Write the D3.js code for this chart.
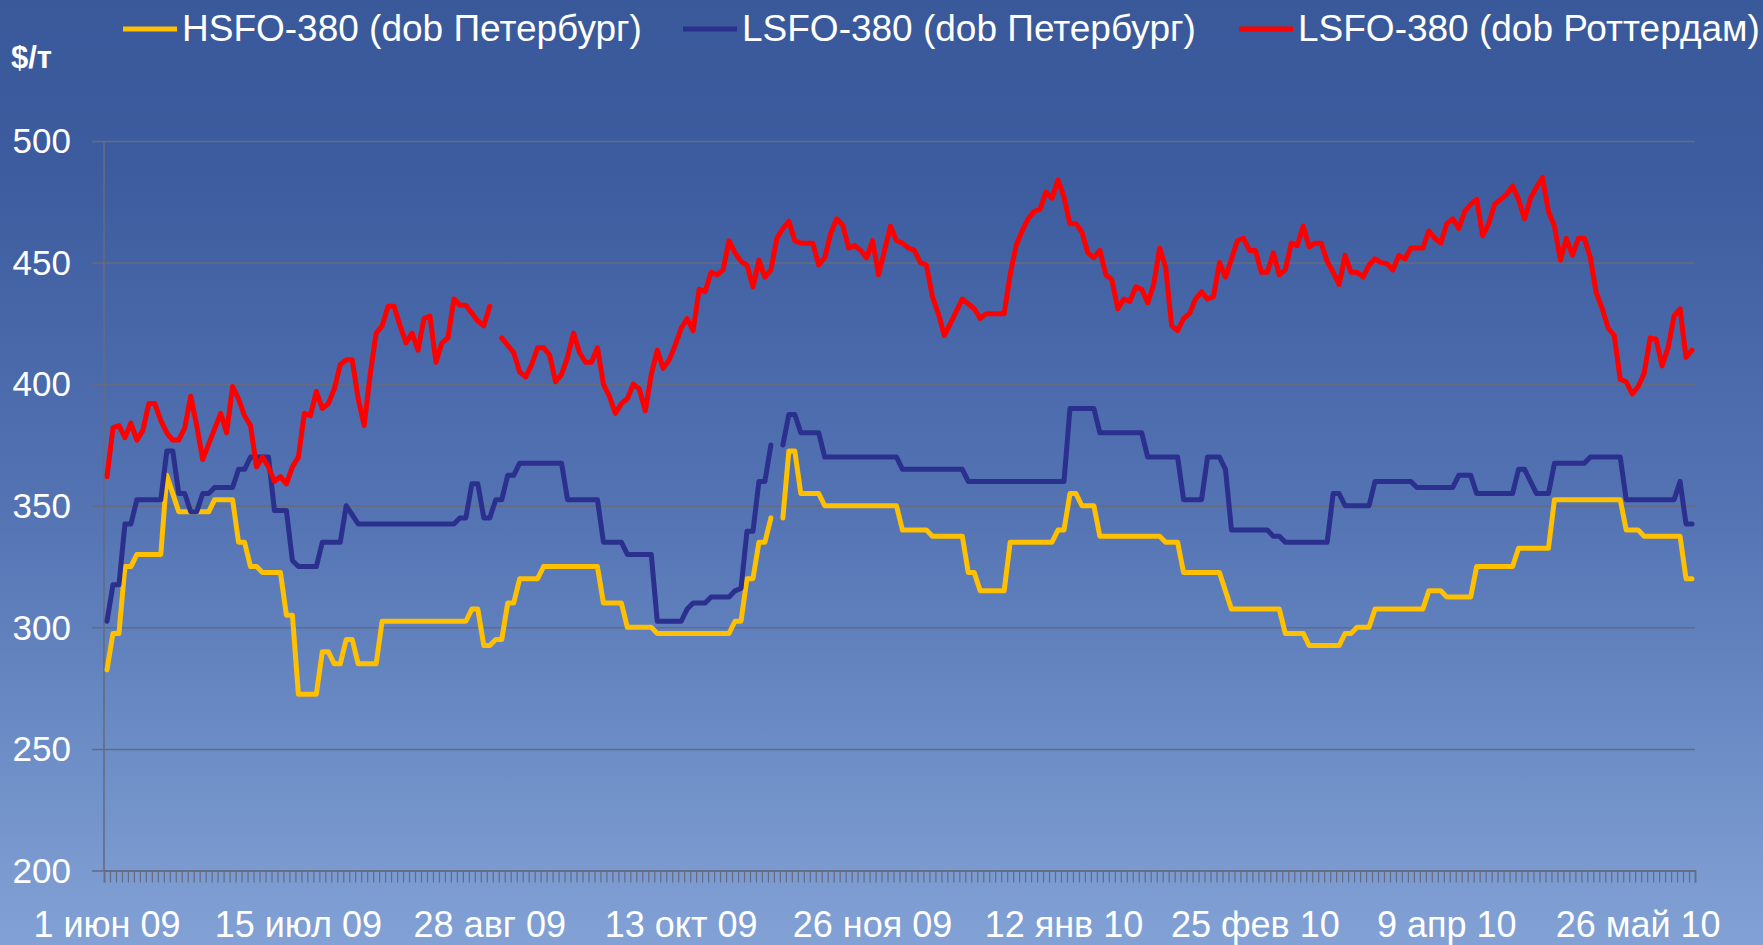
<!DOCTYPE html>
<html>
<head>
<meta charset="utf-8">
<script src="https://cdn.jsdelivr.net/npm/d3@7.9.0/dist/d3.min.js"></script>
<style>
  html, body { margin: 0; padding: 0; background: #3b5a9c; }
  svg { display: block; font-family: "Liberation Sans", Arial, sans-serif; }
</style>
</head>
<body>
<svg id="chart" width="1763" height="945"></svg>
<script>
// trading days from 1 Jun 2009, one category per weekday
const dayCount = 266;
const tickIdx = [0, 32, 64, 96, 128, 160, 192, 224, 256];
const tickLabels = ['1 июн 09', '15 июл 09', '28 авг 09', '13 окт 09', '26 ноя 09',
  '12 янв 10', '25 фев 10', '9 апр 10', '26 май 10'];
const yTicks = [200, 250, 300, 350, 400, 450, 500];

const seriesNames = ['HSFO-380 (dob Петербург)', 'LSFO-380 (dob Петербург)', 'LSFO-380 (dob Роттердам)'];
const seriesColors = ['#ffc000', '#2b2f8e', '#ff0000'];

// [day index, $/т]; null = no quote
const hsfoSpb = [
  [0, 282.5], [1, 297.5], [2, 297.5], [3, 325], [4, 325], [5, 330], [9, 330], [10, 362.5],
  [12, 347.5], [17, 347.5], [18, 352.5], [21, 352.5], [22, 335], [23, 335], [24, 325], [25, 325],
  [26, 322.5], [29, 322.5], [30, 305], [31, 305], [32, 272.5], [35, 272.5], [36, 290], [37, 290],
  [38, 285], [39, 285], [40, 295], [41, 295], [42, 285], [45, 285], [46, 302.5], [60, 302.5],
  [61, 307.5], [62, 307.5], [63, 292.5], [64, 292.5], [65, 295], [66, 295], [67, 310], [68, 310],
  [69, 320], [72, 320], [73, 325], [82, 325], [83, 310], [86, 310], [87, 300], [91, 300],
  [92, 297.5], [104, 297.5], [105, 302.5], [106, 302.5], [107, 320], [108, 320], [109, 335],
  [110, 335], [111, 345], [112, null], [113, 345], [114, 372.5], [115, 372.5], [116, 355],
  [119, 355], [120, 350], [132, 350], [133, 340], [137, 340], [138, 337.5], [143, 337.5],
  [144, 322.5], [145, 322.5], [146, 315], [150, 315], [151, 335], [158, 335], [159, 340],
  [160, 340], [161, 355], [162, 355], [163, 350], [165, 350], [166, 337.5], [176, 337.5],
  [177, 335], [179, 335], [180, 322.5], [186, 322.5], [188, 307.5], [196, 307.5], [197, 297.5],
  [200, 297.5], [201, 292.5], [206, 292.5], [207, 297.5], [208, 297.5], [209, 300], [211, 300],
  [212, 307.5], [220, 307.5], [221, 315], [223, 315], [224, 312.5], [228, 312.5], [229, 325],
  [235, 325], [236, 332.5], [241, 332.5], [242, 352.5], [253, 352.5], [254, 340], [256, 340],
  [257, 337.5], [263, 337.5], [264, 320], [265, 320]
];

const lsfoSpb = [
  [0, 302.5], [1, 317.5], [2, 317.5], [3, 342.5], [4, 342.5], [5, 352.5], [9, 352.5], [10, 372.5],
  [11, 372.5], [12, 355], [13, 355], [14, 347.5], [15, 347.5], [16, 355], [17, 355], [18, 357.5],
  [21, 357.5], [22, 365], [23, 365], [24, 370], [27, 370], [28, 348], [30, 348], [31, 327.5],
  [32, 325], [35, 325], [36, 335], [39, 335], [40, 350], [42, 342.5], [58, 342.5], [59, 345],
  [60, 345], [61, 359], [62, 359], [63, 345], [64, 345], [65, 352.5], [66, 352.5], [67, 362.5],
  [68, 362.5], [69, 367.5], [76, 367.5], [77, 352.5], [82, 352.5], [83, 335], [86, 335],
  [87, 330], [91, 330], [92, 302.5], [96, 302.5], [97, 307.5], [98, 310], [100, 310],
  [101, 312.5], [104, 312.5], [105, 315], [106, 316], [107, 339.5], [108, 339.5], [109, 360],
  [110, 360], [111, 375], [112, null], [113, 375], [114, 387.5], [115, 387.5], [116, 380],
  [119, 380], [120, 370], [132, 370], [133, 365], [143, 365], [144, 360], [160, 360], [161, 390],
  [165, 390], [166, 380], [173, 380], [174, 370], [179, 370], [180, 352.5], [183, 352.5],
  [184, 370], [186, 370], [187, 365], [188, 340], [194, 340], [195, 337.5], [196, 337.5],
  [197, 335], [204, 335], [205, 355], [206, 355], [207, 350], [211, 350], [212, 360], [218, 360],
  [219, 357.5], [225, 357.5], [226, 362.5], [228, 362.5], [229, 355], [235, 355], [236, 365],
  [237, 365], [239, 355], [241, 355], [242, 367.5], [247, 367.5], [248, 370], [253, 370],
  [254, 352.5], [262, 352.5], [263, 360], [264, 342.5], [265, 342.5]
];

const lsfoRtm = [
  [0, 362], [1, 382], [2, 383], [3, 378], [4, 384], [5, 377], [6, 381], [7, 392], [8, 392],
  [9, 385], [10, 380], [11, 377], [12, 377], [13, 382], [14, 395], [15, 383], [16, 369], [19, 388],
  [20, 380], [21, 399], [22, 394], [23, 387], [24, 383], [25, 366], [26, 370], [27, 366],
  [28, 360], [29, 362], [30, 359], [31, 366], [32, 370], [33, 388], [34, 387], [35, 397],
  [36, 390], [37, 392], [38, 398], [39, 408], [40, 410], [41, 410], [42, 394], [43, 383],
  [44, 404], [45, 421], [46, 424], [47, 432], [48, 432], [49, 424], [50, 417], [51, 421],
  [52, 414], [53, 427], [54, 428], [55, 409], [56, 417], [57, 419], [58, 435], [59, 432.5],
  [60, 432.5], [62, 426], [63, 424], [64, 432], [65, null], [66, 419], [68, 413], [69, 405],
  [70, 403], [71, 408], [72, 415], [73, 415], [74, 412], [75, 401], [76, 404], [77, 411],
  [78, 421], [79, 413], [80, 409], [81, 409], [82, 415], [83, 400], [84, 395], [85, 388],
  [86, 392], [87, 394], [88, 400], [89, 398], [90, 389], [91, 404], [92, 414], [93, 406.5],
  [94, 410], [95, 416], [96, 423], [97, 427], [98, 422], [99, 439], [100, 438], [101, 446],
  [102, 445], [103, 447], [104, 459], [105, 454], [106, 450.5], [107, 449], [108, 440],
  [109, 451], [110, 444], [111, 447], [112, 460], [113, 464], [114, 467], [115, 459], [116, 458],
  [118, 458], [119, 449], [120, 452], [121, 462], [122, 468], [123, 465.5], [124, 456],
  [125, 457], [126, 455], [127, 452], [128, 459], [129, 445], [130, 455], [131, 465], [132, 459],
  [133, 458], [134, 456], [135, 455], [136, 450], [137, 449], [138, 436], [139, 429], [140, 420],
  [143, 435], [145, 431], [146, 427], [147, 429], [150, 429], [151, 445], [152, 457], [153, 463],
  [154, 468], [155, 471], [156, 472], [157, 479], [158, 476.5], [159, 484], [160, 477],
  [161, 466], [162, 466], [163, 462.5], [164, 454], [165, 452], [166, 455], [167, 445],
  [168, 443], [169, 431], [170, 435], [171, 434], [172, 440], [173, 439], [174, 433.5],
  [175, 441], [176, 456], [177, 448], [178, 424], [179, 422], [180, 427], [181, 429], [182, 435],
  [183, 438], [184, 435], [185, 436], [186, 450], [187, 444], [188, 451.5], [189, 459],
  [190, 460], [191, 455], [192, 455], [193, 446], [194, 446], [195, 454], [196, 445], [197, 447],
  [198, 458], [199, 457], [200, 465], [201, 456.5], [202, 458], [203, 458], [204, 450.5],
  [205, 446], [206, 441], [207, 453], [208, 446], [209, 446], [210, 444], [211, 449],
  [212, 451.5], [213, 450], [214, 449.5], [215, 447], [216, 453], [217, 451.5], [218, 456],
  [220, 456], [221, 463], [222, 460], [223, 458], [224, 466], [225, 468], [226, 464], [227, 471],
  [228, 474], [229, 476], [230, 461], [231, 466], [232, 474], [233, 476], [234, 478],
  [235, 481.5], [236, 476], [237, 468], [238, 476.5], [239, 481], [240, 485], [241, 471],
  [242, 465], [243, 451], [244, 460], [245, 453], [246, 460], [247, 460], [248, 452],
  [249, 437.5], [250, 431], [251, 423], [252, 420], [253, 402], [254, 401], [255, 396],
  [256, 399], [257, 404.5], [258, 419], [259, 418.5], [260, 407.5], [261, 415], [262, 428],
  [263, 431], [264, 411], [265, 414]
];

const allSeries = [hsfoSpb, lsfoSpb, lsfoRtm];

const width = 1763;
const height = 945;
const plot = { left: 104, right: 1695, top: 141, bottom: 870.5 };
const gridColor = '#656b82';

const svg = d3.select('#chart');

// background gradient
const defs = svg.append('defs');
const grad = defs.append('linearGradient')
  .attr('id', 'bg')
  .attr('x1', 0).attr('y1', 0).attr('x2', 0).attr('y2', 1);
grad.append('stop').attr('offset', '0%').attr('stop-color', '#3a599b');
grad.append('stop').attr('offset', '18%').attr('stop-color', '#3d5c9f');
grad.append('stop').attr('offset', '55%').attr('stop-color', '#5474b4');
grad.append('stop').attr('offset', '100%').attr('stop-color', '#82a2d6');
svg.append('rect').attr('width', width).attr('height', height).attr('fill', 'url(#bg)');

// scales
const xBand = d3.scaleBand()
  .domain(d3.range(dayCount))
  .range([plot.left, plot.right])
  .paddingInner(0).paddingOuter(0);
const xEdge = d3.scaleLinear()
  .domain([0, dayCount])
  .range([plot.left, plot.right]);
const yScale = d3.scaleLinear()
  .domain([200, 500])
  .range([plot.bottom, plot.top]);

const xPos = i => xBand(i) + xBand.bandwidth() / 2;

// gridlines (they run a little past the y axis as ticks)
svg.append('g')
  .attr('class', 'gridlines')
  .attr('transform', `translate(${plot.right}, 0)`)
  .call(d3.axisLeft(yScale).tickValues(yTicks).tickSize(plot.right - 92).tickFormat(''))
  .call(g => g.select('.domain').remove())
  .call(g => g.selectAll('line').attr('stroke', gridColor).attr('stroke-width', 1.5));

svg.append('g')
  .selectAll('text')
  .data(yTicks)
  .join('text')
  .attr('x', 71)
  .attr('y', d => yScale(d))
  .attr('dy', '0.35em')
  .attr('text-anchor', 'end')
  .attr('fill', '#ffffff')
  .attr('font-size', 35)
  .text(d => d);

// y axis line
svg.append('line')
  .attr('x1', plot.left).attr('x2', plot.left)
  .attr('y1', plot.top).attr('y2', plot.bottom)
  .attr('stroke', gridColor).attr('stroke-width', 1.6);

// x axis: a tick at every category boundary
svg.append('g')
  .attr('class', 'x-axis')
  .attr('transform', `translate(0, ${plot.bottom})`)
  .call(d3.axisBottom(xEdge).tickValues(d3.range(dayCount + 1)).tickSize(12).tickFormat(''))
  .call(g => g.select('.domain').attr('stroke', gridColor).attr('stroke-width', 1.6))
  .call(g => g.selectAll('line').attr('stroke', gridColor).attr('stroke-width', 1.2));

svg.append('g')
  .selectAll('text')
  .data(tickIdx)
  .join('text')
  .attr('x', d => xPos(d))
  .attr('y', 937)
  .attr('text-anchor', 'middle')
  .attr('fill', '#ffffff')
  .attr('font-size', 36)
  .text((d, i) => tickLabels[i]);

// unit label
svg.append('text')
  .attr('x', 11).attr('y', 68)
  .attr('fill', '#ffffff')
  .attr('font-size', 31)
  .attr('font-weight', 'bold')
  .text('$/т');

// lines
const line = d3.line()
  .defined(d => d[1] !== null)
  .x(d => xPos(d[0]))
  .y(d => yScale(d[1]));

svg.append('g')
  .selectAll('path')
  .data(allSeries)
  .join('path')
  .attr('d', line)
  .attr('fill', 'none')
  .attr('stroke', (d, i) => seriesColors[i])
  .attr('stroke-width', 5)
  .attr('stroke-linejoin', 'round')
  .attr('stroke-linecap', 'round');

// legend
const legendX = [123, 683, 1239];
const legend = svg.append('g')
  .selectAll('g')
  .data(seriesNames)
  .join('g')
  .attr('transform', (d, i) => `translate(${legendX[i]}, 29)`);
legend.append('line')
  .attr('x1', 0).attr('x2', 54)
  .attr('stroke', (d, i) => seriesColors[i])
  .attr('stroke-width', 5);
legend.append('text')
  .attr('x', 59)
  .attr('y', 12)
  .attr('fill', '#ffffff')
  .attr('font-size', 37)
  .text(d => d);
</script>
</body>
</html>
